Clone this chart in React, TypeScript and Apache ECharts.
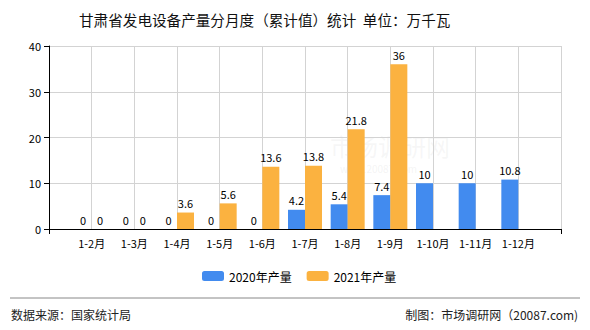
import React, { useEffect, useRef } from "react";
import * as echarts from "echarts";

const categories = ["", "1-2月", "1-3月", "1-4月", "1-5月", "1-6月", "1-7月", "1-8月", "1-9月", "1-10月", "1-11月", "1-12月", ""];
const series2020 = [null, 0, 0, 0, 0, 0, 4.2, 5.4, 7.4, 10, 10, 10.8, null];
const series2021 = [null, 0, 0, 3.6, 5.6, 13.6, 13.8, 21.8, 36, null, null, null, null];
const seriesNames = ["2020年产量", "2021年产量"];
const title = "甘肃省发电设备产量分月度（累计值）统计  单位：万千瓦";
const sourceText = "数据来源：国家统计局";
const makerText = "制图：市场调研网（20087.com)";

const FONT = "'Noto Sans CJK SC', 'Noto Sans', sans-serif";

export default function App() {
  const ref = useRef<HTMLDivElement>(null);
  useEffect(() => {
    if (!ref.current) return;
    const chart = echarts.init(ref.current, null, { renderer: "svg" });
    const label = {
      show: true,
      position: "top" as const,
      color: "#000",
      fontSize: 11,
      fontFamily: FONT,
      distance: 4,
    };
    chart.setOption({
      animation: false,
      backgroundColor: "#fff",
      textStyle: { fontFamily: FONT },
      title: {
        text: title,
        left: 74,
        top: 7,
        textStyle: { fontSize: 14.6, fontWeight: "normal", color: "#111", fontFamily: FONT },
      },
      legend: {
        data: seriesNames,
        bottom: 43,
        left: 197,
        itemWidth: 22,
        itemHeight: 10,
        itemGap: 15,
        textStyle: { fontSize: 12, color: "#000", fontFamily: FONT },
      },
      grid: { left: 49, right: 29, top: 46, bottom: 101 },
      xAxis: {
        type: "category",
        data: categories,
        boundaryGap: false,
        axisLine: { lineStyle: { color: "#000" } },
        axisTick: {
          show: true,
          length: 5,
          interval: (i: number) => i === 0 || i === categories.length - 1,
          lineStyle: { color: "#000" },
        },
        axisLabel: { color: "#000", fontSize: 11, interval: 0, margin: 8, fontFamily: FONT },
        splitLine: { show: true, lineStyle: { color: "#d3d3d3" } },
      },
      yAxis: {
        type: "value",
        min: 0,
        max: 40,
        interval: 10,
        axisLine: { show: true, lineStyle: { color: "#000" } },
        axisTick: { show: true, length: 5, lineStyle: { color: "#000" } },
        axisLabel: { color: "#000", fontSize: 11, margin: 8, fontFamily: FONT },
        splitLine: { show: true, lineStyle: { color: "#d3d3d3" } },
      },
      series: [
        {
          name: seriesNames[0],
          type: "bar",
          data: series2020,
          barWidth: 17,
          barGap: "0%",
          itemStyle: { color: "#428BEF" },
          label,
        },
        {
          name: seriesNames[1],
          type: "bar",
          data: series2021,
          barWidth: 17,
          barGap: "0%",
          itemStyle: { color: "#FBB240" },
          label,
        },
      ],
      graphic: [
        {
          type: "text",
          left: 330,
          top: 132,
          z: 0,
          silent: true,
          style: { text: "市场调研网", fontSize: 24, lineHeight: 26, fill: "rgba(200,200,200,0.16)", fontFamily: FONT },
        },
        {
          type: "text",
          left: 340,
          top: 163,
          z: 0,
          silent: true,
          style: { text: "www.20087.com", fontSize: 10, lineHeight: 11, fill: "rgba(200,200,200,0.2)", fontFamily: FONT },
        },
        {
          type: "line",
          shape: { x1: 10, y1: 298, x2: 580, y2: 298 },
          style: { stroke: "#888", lineWidth: 1 },
        },
        {
          type: "text",
          left: 11,
          top: 308,
          style: { text: sourceText, fontSize: 12, fill: "#222", fontFamily: FONT },
        },
        {
          type: "text",
          right: 12,
          top: 308,
          style: { text: makerText, fontSize: 12, fill: "#222", fontFamily: FONT },
        },
      ],
    });
    return () => chart.dispose();
  }, []);
  return <div ref={ref} style={{ width: 590, height: 330, position: "absolute", left: 0, top: 0 }} />;
}
